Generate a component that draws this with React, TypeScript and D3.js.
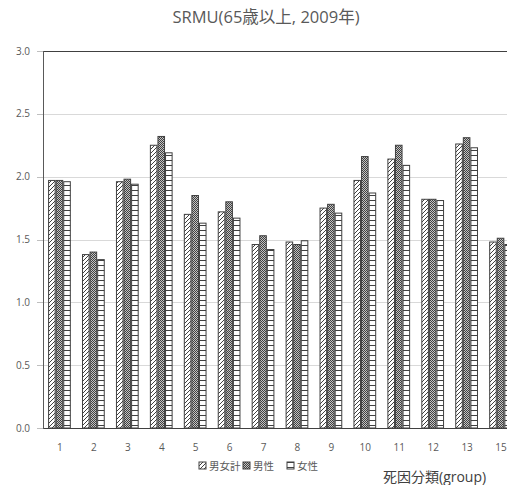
//@ts-nocheck
import React, { useRef, useEffect } from 'react'
import * as d3 from 'd3'

const groups = ['1', '2', '3', '4', '5', '6', '7', '8', '9', '10', '11', '12', '13', '15']
const seriesNames = ['男女計', '男性', '女性']
const total = [1.97, 1.38, 1.96, 2.25, 1.7, 1.72, 1.46, 1.48, 1.75, 1.97, 2.14, 1.82, 2.26, 1.48]
const male = [1.97, 1.4, 1.98, 2.32, 1.85, 1.8, 1.53, 1.46, 1.78, 2.16, 2.25, 1.82, 2.31, 1.51]
const female = [1.96, 1.34, 1.94, 2.19, 1.63, 1.67, 1.42, 1.49, 1.71, 1.87, 2.09, 1.81, 2.23, 1.46]
const yTicks = [0, 0.5, 1, 1.5, 2, 2.5, 3]

const width = 507
const height = 485
const font = "'Open Sans', 'Noto Sans CJK JP', sans-serif"

const App = () => {
  const node = useRef(null)

  useEffect(() => {
    const svg = d3.select(node.current)
    svg.selectAll('*').remove()

    const margin = { top: 51, left: 43, bottom: 57 }
    const plotBottom = height - margin.bottom
    const step = 33.93

    const defs = svg.append('defs')
    const hatch = defs.append('pattern').attr('id', 'p0').attr('patternUnits', 'userSpaceOnUse').attr('width', 4).attr('height', 4)
    hatch.append('rect').attr('width', 4).attr('height', 4).attr('fill', '#fff')
    hatch.append('path').attr('d', 'M-1,1 l2,-2 M0,4 l4,-4 M3,5 l2,-2').attr('stroke', '#404040').attr('stroke-width', 1)
    const dots = defs.append('pattern').attr('id', 'p1').attr('patternUnits', 'userSpaceOnUse').attr('width', 2).attr('height', 2)
    dots.append('rect').attr('width', 2).attr('height', 2).attr('fill', '#c4c4c4')
    dots.append('rect').attr('width', 1).attr('height', 1).attr('fill', '#404040')
    dots.append('rect').attr('x', 1).attr('y', 1).attr('width', 1).attr('height', 1).attr('fill', '#404040')
    const stripes = defs.append('pattern').attr('id', 'p2').attr('patternUnits', 'userSpaceOnUse').attr('width', 8).attr('height', 5)
    stripes.append('rect').attr('width', 8).attr('height', 5).attr('fill', '#fff')
    stripes.append('line').attr('x1', 0).attr('x2', 8).attr('y1', 0.5).attr('y2', 0.5).attr('stroke', '#404040').attr('stroke-width', 1)

    const x0 = d3
      .scaleBand()
      .domain(groups)
      .range([margin.left, margin.left + step * groups.length])
      .padding(0)
    const x1 = d3
      .scaleBand()
      .domain(seriesNames)
      .range([x0.bandwidth() * 0.15, x0.bandwidth() * 0.82])
      .padding(0)
    const y = d3.scaleLinear().domain([0, 3]).range([plotBottom, margin.top])

    // grid
    svg
      .append('g')
      .selectAll('line')
      .data(yTicks.filter((t) => t > 0 && t < 3))
      .join('line')
      .attr('x1', margin.left)
      .attr('x2', width)
      .attr('y1', (d) => Math.round(y(d)) + 0.5)
      .attr('y2', (d) => Math.round(y(d)) + 0.5)
      .attr('stroke', '#d9d9d9')

    // y axis labels + ticks
    const yAxis = svg.append('g')
    yAxis
      .selectAll('line')
      .data(yTicks)
      .join('line')
      .attr('x1', margin.left - 6)
      .attr('x2', margin.left)
      .attr('y1', (d) => Math.round(y(d)) + 0.5)
      .attr('y2', (d) => Math.round(y(d)) + 0.5)
      .attr('stroke', '#bfbfbf')
    yAxis
      .selectAll('text')
      .data(yTicks)
      .join('text')
      .attr('x', 30)
      .attr('y', (d) => y(d))
      .attr('dy', '0.35em')
      .attr('text-anchor', 'end')
      .attr('font-family', font)
      .attr('font-size', 10)
      .attr('fill', '#595959')
      .text((d) => d3.format('.1f')(d))

    // bars
    const seriesValues = [total, male, female]
    const rows = []
    groups.forEach((g, i) => {
      seriesNames.forEach((s, j) => rows.push({ g, s, j, v: seriesValues[j][i] }))
    })
    svg
      .append('g')
      .selectAll('rect')
      .data(rows)
      .join('rect')
      .attr('x', (d) => x0(d.g) + x1(d.s) + 0.5)
      .attr('y', (d) => y(d.v))
      .attr('width', x1.bandwidth() - 1)
      .attr('height', (d) => plotBottom - y(d.v))
      .attr('fill', (d) => `url(#p${d.j})`)
      .attr('stroke', '#404040')
      .attr('stroke-width', 1)

    // frame lines
    svg.append('line').attr('x1', margin.left).attr('x2', width).attr('y1', margin.top + 0.5).attr('y2', margin.top + 0.5).attr('stroke', '#404040')
    svg.append('line').attr('x1', margin.left).attr('x2', width).attr('y1', plotBottom + 0.5).attr('y2', plotBottom + 0.5).attr('stroke', '#404040')
    svg.append('line').attr('x1', margin.left + 0.5).attr('x2', margin.left + 0.5).attr('y1', margin.top).attr('y2', plotBottom + 1).attr('stroke', '#595959')

    // x labels
    svg
      .append('g')
      .selectAll('text')
      .data(groups)
      .join('text')
      .attr('x', (d) => x0(d) + x0.bandwidth() / 2)
      .attr('y', 451)
      .attr('text-anchor', 'middle')
      .attr('font-family', font)
      .attr('font-size', 10)
      .attr('fill', '#595959')
      .text((d) => d)

    // title
    svg
      .append('text')
      .attr('x', 266)
      .attr('y', 23)
      .attr('text-anchor', 'middle')
      .attr('font-family', font)
      .attr('font-size', 16.5)
      .attr('fill', '#595959')
      .text('SRMU(65歳以上, 2009年)')

    // legend
    const legendX = [199, 243, 287]
    const legend = svg
      .append('g')
      .selectAll('g')
      .data(seriesNames)
      .join('g')
      .attr('transform', (d, i) => `translate(${legendX[i]},462)`)
    legend
      .append('rect')
      .attr('width', 7)
      .attr('height', 7)
      .attr('fill', (d, i) => `url(#p${i})`)
      .attr('stroke', '#404040')
    legend
      .append('text')
      .attr('x', 10)
      .attr('y', 8)
      .attr('font-family', font)
      .attr('font-size', 10.5)
      .attr('fill', '#595959')
      .text((d) => d)

    svg
      .append('text')
      .attr('x', 383)
      .attr('y', 482)
      .attr('font-family', font)
      .attr('font-size', 14)
      .attr('fill', '#404040')
      .text('死因分類(group)')
  }, [])

  return (
    <div style={{ position: 'absolute', left: 0, top: 0 }}>
      <svg ref={node} width={width} height={height} style={{ display: 'block', background: '#fff' }}></svg>
    </div>
  )
}

export default App
